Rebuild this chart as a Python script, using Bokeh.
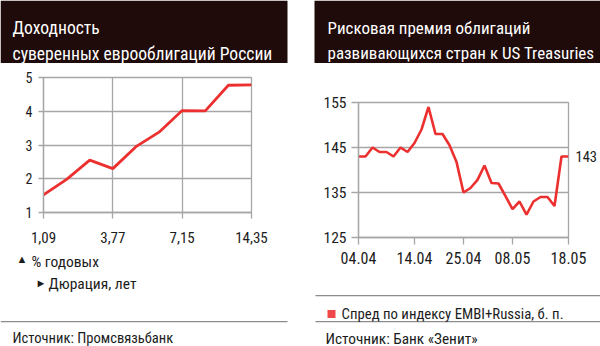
from bokeh.plotting import figure
from bokeh.models import Label, BoxAnnotation, FixedTicker, Range1d, LinearAxis
from bokeh.layouts import row, column
from bokeh.embed import file_html
from bokeh.resources import INLINE

FONT = "Roboto Condensed"
DARK = "#1f0b0a"
RED = "#ec3030"
GRID = "#a6a6a6"
RULE = "#8c8c8c"
TXT = "#1c1c1c"

# ---------------- data ----------------
left_title = ["Доходность", "суверенных еврооблигаций России"]
left_tick_pos = [0, 3, 6, 9]
left_tick_labels = ["1,09", "3,77", "7,15", "14,35"]
left_y = [1.52, 1.98, 2.55, 2.30, 2.95, 3.38, 4.02, 4.01, 4.77, 4.78]
left_x = list(range(len(left_y)))
left_yticks = [1, 2, 3, 4, 5]
left_notes = ["% годовых", "Дюрация, лет"]
left_source = "Источник: Промсвязьбанк"

right_title = ["Рисковая премия облигаций", "развивающихся стран к US Treasuries"]
right_tick_pos = [0, 8, 15, 22, 30]
right_tick_labels = ["04.04", "14.04", "25.04", "08.05", "18.05"]
right_y = [143, 143, 145, 144, 144, 143, 145, 144, 146, 149, 154, 148, 148, 145.5,
           141.8, 135, 136, 137.8, 141, 137.1, 137, 134.2, 131.3, 133, 130.1, 133,
           134, 134, 132, 143, 143]
right_x = list(range(len(right_y)))
right_yticks = [125, 135, 145, 155]
right_legend = "Спред по индексу EMBI+Russia, б. п."
right_source = "Источник: Банк «Зенит»"

W = 300


def no_align(p):
    try:
        p.frame_align = False
    except Exception:
        pass
    return p


def deco(x0, y0, w, h):
    """Figure whose frame fills it; data coords equal page pixel coords."""
    p = figure(width=w, height=h, x_range=Range1d(x0, x0 + w), y_range=Range1d(y0 + h, y0),
               x_axis_type=None, y_axis_type=None, min_border=0,
               min_border_left=0, min_border_right=0, min_border_top=0, min_border_bottom=0,
               output_backend="svg", toolbar_location=None, outline_line_color=None,
               background_fill_color="white", border_fill_color="white")
    return no_align(p)


def text(p, x, y, s, size, color=TXT, font=FONT, baseline="middle"):
    p.add_layout(Label(x=x, y=y, text=s, text_font=font, text_font_size=size,
                       text_color=color, text_baseline=baseline, text_align="left"))


def box(p, x0, y0, x1, y1, color):
    p.add_layout(BoxAnnotation(left=x0, right=x1, top=y0, bottom=y1, fill_color=color,
                               fill_alpha=1.0, line_color=None, level="underlay"))


def chart(h, fl, fr, ft, fb, xr, yr):
    p = figure(width=W, height=h, x_range=Range1d(*xr), y_range=Range1d(*yr),
               min_border_left=fl, min_border_right=fr, min_border_top=ft,
               min_border_bottom=fb, output_backend="svg", toolbar_location=None,
               background_fill_color="white", border_fill_color="white",
               outline_line_color=GRID, outline_line_width=1.3)
    for ax in (p.xaxis[0], p.yaxis[0]):
        ax.axis_line_color = GRID
        ax.axis_line_width = 1.3
        ax.major_tick_line_color = GRID
        ax.major_tick_line_width = 1.3
        ax.minor_tick_line_color = None
        ax.major_tick_in = 0
        ax.major_label_text_font = FONT
        ax.major_label_text_color = TXT
    p.grid.grid_line_color = GRID
    p.grid.grid_line_width = 1.3
    return no_align(p)


# ---------------- left panel ----------------
bl = deco(0, 0, W, 63)
box(bl, 0, 0, 287, 63, DARK)
text(bl, 12, 27, left_title[0], "17.6px", "white", FONT, "alphabetic")
text(bl, 12, 53, left_title[1], "17.6px", "white", FONT, "alphabetic")

pl = chart(187, 43, 49, 14, 38, (left_x[0], left_x[-1]), (left_yticks[0], left_yticks[-1]))
pl.line(left_x, left_y, line_color=RED, line_width=2.8)
pl.xaxis.ticker = FixedTicker(ticks=left_tick_pos)
pl.xaxis.major_label_overrides = {t: s for t, s in zip(left_tick_pos, left_tick_labels)}
pl.xaxis.major_tick_out = 6
pl.xaxis.major_label_standoff = 13
pl.xaxis.major_label_text_font_size = "15px"
pl.yaxis.ticker = FixedTicker(ticks=left_yticks)
pl.yaxis.major_tick_out = 5
pl.yaxis.major_label_standoff = 6
pl.yaxis.major_label_text_font_size = "14px"
pl.xgrid.ticker = FixedTicker(ticks=left_tick_pos[1:-1])
pl.ygrid.ticker = FixedTicker(ticks=left_yticks[1:-1])

fl = deco(0, 250, W, 96)
text(fl, 16, 259, "▲", "11px")
text(fl, 31, 261, left_notes[0], "15.5px")
text(fl, 35, 282.5, "►", "11px")
text(fl, 48, 283, left_notes[1], "15.5px")
box(fl, 0, 320.5, 287, 321.7, RULE)
text(fl, 12, 337.5, left_source, "14.6px")

# ---------------- right panel ----------------
br = deco(300, 0, W, 63)
box(br, 314, 0, 600, 63, DARK)
text(br, 327, 27, right_title[0], "17px", "white", FONT, "alphabetic")
text(br, 327, 52.5, right_title[1], "17px", "white", FONT, "alphabetic")

pr = chart(222, 58, 32, 39, 48, (right_x[0], right_x[-1]), (right_yticks[0], right_yticks[-1]))
pr.line(right_x, right_y, line_color=RED, line_width=2.6)
pr.xaxis.ticker = FixedTicker(ticks=right_tick_pos)
pr.xaxis.major_label_overrides = {t: s for t, s in zip(right_tick_pos, right_tick_labels)}
pr.xaxis.major_tick_out = 7
pr.xaxis.major_label_standoff = 7
pr.xaxis.major_label_text_font_size = "16px"
pr.yaxis.ticker = FixedTicker(ticks=right_yticks)
pr.yaxis.major_tick_out = 7
pr.yaxis.major_label_standoff = 5
pr.yaxis.major_label_text_font_size = "15.5px"
pr.xgrid.visible = False
pr.ygrid.ticker = FixedTicker(ticks=right_yticks[1:-1])
last_ax = LinearAxis(ticker=FixedTicker(ticks=[right_y[-1]]), axis_line_color=None,
                     major_tick_line_color=None, minor_tick_line_color=None,
                     major_tick_in=0, major_tick_out=0,
                     major_label_standoff=7, major_label_text_font=FONT,
                     major_label_text_font_size="14.5px", major_label_text_color=TXT)
pr.add_layout(last_ax, "right")

fr = deco(300, 285, W, 61)
box(fr, 315, 294.5, 600, 295.7, RULE)
box(fr, 327, 309.5, 335, 317.5, "#f04848")
text(fr, 341, 313, right_legend, "14.8px")
box(fr, 315, 320.5, 600, 321.7, RULE)
text(fr, 325, 338, right_source, "15.3px")

layout = row(column(bl, pl, fl), column(br, pr, fr))
open("out.html", "w").write(file_html(layout, INLINE))
